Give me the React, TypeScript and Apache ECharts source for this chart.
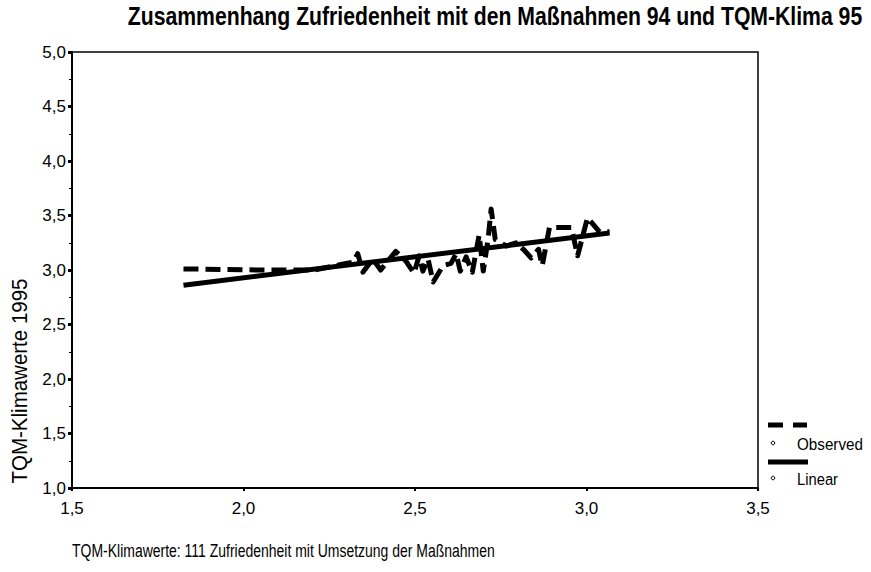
import React, { useEffect, useRef } from "react";
import * as echarts from "echarts";

const titleText = "Zusammenhang Zufriedenheit mit den Maßnahmen 94 und TQM-Klima 95";
const xAxisTitle = "TQM-Klimawerte: 111 Zufriedenheit mit Umsetzung der Maßnahmen";
const yAxisTitle = "TQM-Klimawerte 1995";
const legendNames = ["Observed", "Linear"];

const observedX = [
  1.825, 2.05, 2.205, 2.284, 2.319, 2.333, 2.348, 2.377, 2.4, 2.42, 2.444, 2.474, 2.497, 2.512,
  2.523, 2.538, 2.553, 2.582, 2.605, 2.62, 2.632, 2.649, 2.667, 2.687, 2.699, 2.713, 2.722,
  2.734, 2.766, 2.795, 2.816, 2.839, 2.86, 2.871, 2.892, 2.933, 2.956, 2.974, 3.003, 3.038, 3.067,
];
const observedY = [
  3.01, 3.0, 3.0, 3.05, 3.07, 3.15, 2.98, 3.1, 3.0, 3.08, 3.17, 3.08, 2.97, 3.13,
  2.99, 3.1, 2.89, 3.04, 3.06, 3.15, 2.99, 3.12, 2.98, 3.32, 2.99, 3.28, 3.56,
  3.28, 3.22, 3.25, 3.19, 3.11, 3.19, 3.04, 3.39, 3.39, 3.39, 3.13, 3.48, 3.35, 3.35,
];
const linearX = [1.825, 3.067];
const linearY = [2.86, 3.34];

const FONT = "'Liberation Sans', Arial, sans-serif";

const fmt = (v: number) => v.toFixed(1).replace(".", ",");

function fitScale(text: string, font: string, target: number): number {
  const c = document.createElement("canvas").getContext("2d");
  if (!c) return 1;
  c.font = font;
  const w = c.measureText(text).width;
  return w > 0 ? target / w : 1;
}

export default function App() {
  const ref = useRef<HTMLDivElement>(null);
  useEffect(() => {
    if (!ref.current) return;
    const chart = echarts.init(ref.current, null, { renderer: "svg" });
    const observed = observedX.map((x, i) => [x, observedY[i]]);
    const linear = linearX.map((x, i) => [x, linearY[i]]);

    const titleFont = `bold 25px ${FONT}`;
    const xTitleFont = `19px ${FONT}`;
    const yTitleFont = `22px ${FONT}`;
    const legFont = `17px ${FONT}`;

    const fitText = (text: string, font: string, x: number, y: number, w: number, align: string, rotation = 0) => ({
      type: "text",
      x,
      y,
      rotation,
      scaleX: fitScale(text, font, w),
      style: { text, fill: "#000", font, align, verticalAlign: "middle" },
    });

    chart.setOption({
      animation: false,
      backgroundColor: "#fff",
      grid: {
        left: 72,
        right: 113,
        top: 52,
        bottom: 84,
        show: true,
        borderColor: "#000",
        borderWidth: 1.5,
        backgroundColor: "transparent",
      },
      xAxis: {
        type: "value",
        min: 1.5,
        max: 3.5,
        interval: 0.5,
        axisLine: { show: true, onZero: false, lineStyle: { color: "#000", width: 2 } },
        axisTick: { show: true, length: 3, lineStyle: { color: "#000", width: 2 } },
        splitLine: { show: false },
        axisLabel: {
          formatter: fmt,
          color: "#000",
          fontFamily: FONT,
          fontSize: 17,
          margin: 12,
        },
      },
      yAxis: {
        type: "value",
        min: 1,
        max: 5,
        interval: 0.5,
        axisLine: { show: true, onZero: false, lineStyle: { color: "#000", width: 2 } },
        axisTick: { show: true, length: 4, lineStyle: { color: "#000", width: 3 } },
        minorTick: { show: true, splitNumber: 2, length: 3, lineStyle: { color: "#000", width: 1 } },
        splitLine: { show: false },
        axisLabel: {
          formatter: fmt,
          color: "#000",
          fontFamily: FONT,
          fontSize: 17,
          margin: 6,
        },
      },
      series: [
        {
          name: legendNames[0],
          type: "line",
          data: observed,
          showSymbol: false,
          symbol: "none",
          lineStyle: { color: "#000", width: 5, type: [15, 7], cap: "butt", join: "round" },
        },
        {
          name: legendNames[1],
          type: "line",
          data: linear,
          showSymbol: false,
          symbol: "none",
          lineStyle: { color: "#000", width: 5, type: "solid" },
        },
      ],
      graphic: [
        fitText(titleText, titleFont, 495, 16, 735, "center"),
        fitText(yAxisTitle, yTitleFont, 20, 381, 205, "center", Math.PI / 2),
        fitText(xAxisTitle, xTitleFont, 72, 551, 423, "left"),
        { type: "line", shape: { x1: 768, y1: 425, x2: 783, y2: 425 }, style: { stroke: "#000", lineWidth: 5 } },
        { type: "line", shape: { x1: 793, y1: 425, x2: 807, y2: 425 }, style: { stroke: "#000", lineWidth: 5 } },
        { type: "circle", shape: { cx: 773, cy: 443, r: 1.8 }, style: { fill: "#fff", stroke: "#000", lineWidth: 1 } },
        fitText(legendNames[0], legFont, 797, 444, 66, "left"),
        { type: "line", shape: { x1: 768, y1: 462, x2: 808, y2: 462 }, style: { stroke: "#000", lineWidth: 5 } },
        { type: "circle", shape: { cx: 773, cy: 478, r: 1.8 }, style: { fill: "#fff", stroke: "#000", lineWidth: 1 } },
        fitText(legendNames[1], legFont, 797, 479, 41, "left"),
      ],
    });
    return () => chart.dispose();
  }, []);
  return <div ref={ref} style={{ width: 871, height: 572, position: "fixed", left: 0, top: 0 }} />;
}
